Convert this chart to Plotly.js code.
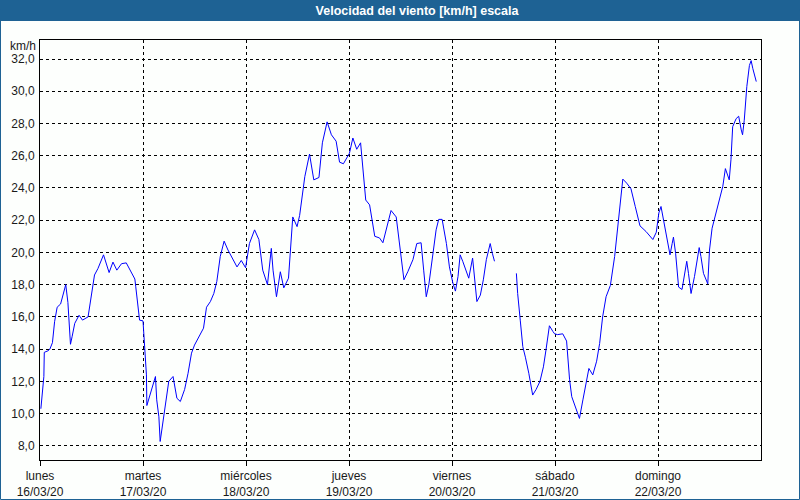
<!DOCTYPE html>
<html>
<head>
<meta charset="utf-8">
<script src="https://cdn.plot.ly/plotly-3.0.1.min.js"></script>
<style>
html,body{margin:0;padding:0;background:#fff;}
#chart{width:800px;height:500px;}
</style>
</head>
<body>
<div id="chart"></div>
<script>
// hours since lunes 16/03/20 00:00
const hours = [
0.2,0.5,0.9,1.0,1.9,2.3,2.9,3.4,4.0,4.8,5.4,6.0,6.5,6.8,7.1,7.5,8.1,9.1,9.9,11.2,11.7,12.7,13.5,14.8,16.1,17.0,17.9,19.0,20.1,21.3,22.1,22.3,22.8,23.2,24.0,
24.4,24.8,24.9,25.5,26.3,26.9,27.2,27.7,28.0,28.3,28.8,29.4,30.0,31.0,31.9,32.7,33.7,34.5,35.3,36.0,37.6,38.1,38.8,39.7,40.5,41.2,42.0,42.9,43.8,44.8,45.9,46.9,47.9,
48.8,50.0,51.0,51.9,53.0,53.9,54.3,55.1,56.0,56.8,57.9,58.3,58.9,59.9,60.5,61.7,62.8,63.8,65.0,65.8,66.3,66.9,67.9,69.0,69.8,70.7,
72.1,72.9,73.8,74.7,75.9,76.8,78.0,79.1,79.9,80.8,81.8,83.0,83.9,84.8,85.7,86.9,87.8,88.8,89.4,90.0,90.6,91.5,92.3,92.9,93.7,94.7,95.4,
96.2,96.8,97.4,97.9,98.5,99.9,100.8,101.5,101.8,102.6,103.3,104.0,104.9,105.4,105.9,108.0,
111.0,111.3,111.9,112.5,113.1,113.9,114.8,115.6,116.5,117.3,117.9,118.7,119.5,
119.9,120.6,121.8,122.7,123.4,123.9,124.9,125.7,126.5,127.3,127.9,128.8,129.7,130.4,131.1,131.9,132.9,133.9,134.9,135.8,136.7,137.7,138.7,139.8,141.2,142.8,143.6,
144.2,144.7,145.3,145.7,146.3,146.8,147.3,147.6,148.1,148.4,148.8,149.6,150.2,150.7,151.1,151.7,152.5,153.1,153.6,154.0,154.6,155.6,156.0,156.6,157.5,158.3,159.1,159.7,
160.6,161.0,161.4,162.2,162.8,163.4,163.7,164.1,164.7,165.3,165.7,166.1,166.9
];
const speed = [
10.3,11.3,12.3,13.8,13.9,14.0,14.4,15.7,16.6,16.8,17.4,18.0,16.9,15.7,14.3,14.8,15.6,16.1,15.8,16.0,16.9,18.6,19.0,19.85,18.75,19.4,18.9,19.3,19.35,18.7,18.35,17.9,16.6,15.8,15.75,
13.75,12.4,10.5,11.05,11.9,12.3,10.85,9.8,8.27,8.8,9.6,10.85,12.0,12.3,10.95,10.75,11.5,12.5,13.75,14.25,15.0,15.3,16.6,16.95,17.45,18.2,19.75,20.7,20.15,19.6,19.1,19.5,19.05,
20.55,21.4,20.8,18.9,18.0,20.25,18.9,17.25,18.8,17.8,18.4,19.95,22.2,21.6,22.3,24.7,26.1,24.5,24.65,26.8,27.5,28.1,27.3,26.9,25.6,25.5,
26.15,27.1,26.4,26.8,23.25,22.95,21.0,20.9,20.6,21.5,22.6,22.2,20.25,18.3,18.8,19.55,20.55,20.6,18.9,17.25,18.0,19.95,21.4,22.05,22.05,20.55,19.1,
18.1,17.6,18.5,19.85,19.45,18.4,19.65,17.9,16.95,17.35,18.3,19.55,20.55,19.95,19.45,null,
18.7,17.45,15.8,14.15,13.5,12.5,11.15,11.5,12.0,12.9,13.95,15.45,15.1,
14.95,14.9,14.95,14.5,12.1,11.05,10.35,9.7,10.85,12.1,12.8,12.4,13.25,14.35,16.0,17.25,17.95,19.75,22.2,24.55,24.3,23.95,22.85,21.65,21.3,20.8,21.25,
22.45,22.85,22.0,21.4,20.55,19.85,20.55,20.95,19.95,18.9,17.85,17.7,18.6,19.45,18.7,17.45,18.5,19.45,20.3,19.75,18.7,18.05,20.15,21.5,22.45,23.25,24.1,25.2,
24.5,25.75,27.8,28.3,28.45,27.6,27.3,28.2,30.3,31.6,31.9,31.4,30.6
];
const dayTicks = [0,24,48,72,96,120,144];
const dayNames = ["lunes","martes","miércoles","jueves","viernes","sábado","domingo"];
const dayDates = ["16/03/20","17/03/20","18/03/20","19/03/20","20/03/20","21/03/20","22/03/20"];
const yTicks = [8,10,12,14,16,18,20,22,24,26,28,30,32];

const frameBlue = "#1e6294";
const FONT = "Liberation Sans, Arial, sans-serif";

const trace = {
  x: hours, y: speed, type: "scatter", mode: "lines",
  line: {color: "#0000ff", width: 1}, connectgaps: false, hoverinfo: "skip"
};

// pixel -> paper helpers (plot area 40..761 x, 40..460 y)
const L = 40, R = 39, T = 40, B = 40, W = 800, H = 500;
const pw = W - L - R, ph = H - T - B;
const px = v => (v - L) / pw;
const py = v => (H - B - v) / ph;

const layout = {
  width: W, height: H,
  margin: {l: L, r: R, t: T, b: B, pad: 0},
  paper_bgcolor: "#fdfffd",
  plot_bgcolor: "#fdfffd",
  separators: ",.",
  showlegend: false,
  font: {family: FONT, size: 12, color: "#1a1a1a"},
  title: {
    text: "<b>Velocidad del viento [km/h] escala</b>",
    font: {family: FONT, size: 12.5, color: "#ffffff"},
    x: 417 / W, xanchor: "center", xref: "container",
    y: 1 - 10.5 / H, yanchor: "middle", yref: "container"
  },
  xaxis: {
    range: [0, 168], tickmode: "array", tickvals: dayTicks,
    ticktext: dayNames.map((d, i) => d + "<br>" + dayDates[i]),
    showgrid: true, gridcolor: "#000000", griddash: "3px,3px", gridwidth: 1,
    showline: true, linecolor: "#000000", linewidth: 1, mirror: true,
    ticks: "outside", ticklen: 5, tickcolor: "#000000",
    tickfont: {family: FONT, size: 12, color: "#1a1a1a"},
    zeroline: false, fixedrange: true
  },
  yaxis: {
    range: [7.12, 33.18], tickmode: "array", tickvals: yTicks, tickformat: ".1f",
    showgrid: true, gridcolor: "#000000", griddash: "3px,3px", gridwidth: 1,
    showline: true, linecolor: "#000000", linewidth: 1, mirror: true,
    ticks: "", ticklabelstandoff: 2,
    tickfont: {family: FONT, size: 12, color: "#1a1a1a"},
    zeroline: false, fixedrange: true
  },
  shapes: [
    {type: "rect", xref: "paper", yref: "paper", layer: "below",
     x0: px(0), x1: px(800), y0: py(21), y1: py(0),
     fillcolor: frameBlue, line: {width: 0}},
    {type: "rect", xref: "paper", yref: "paper", layer: "below",
     x0: px(0.5), x1: px(799.5), y0: py(499.5), y1: py(10),
     fillcolor: "rgba(0,0,0,0)", line: {color: frameBlue, width: 1}}
  ],
  annotations: [
    {text: "km/h", xref: "paper", yref: "paper", x: px(38), y: py(46),
     xanchor: "right", yanchor: "middle", showarrow: false,
     font: {family: FONT, size: 12, color: "#1a1a1a"}}
  ]
};

Plotly.newPlot("chart", [trace], layout, {staticPlot: true, displayModeBar: false});
</script>
</body>
</html>
